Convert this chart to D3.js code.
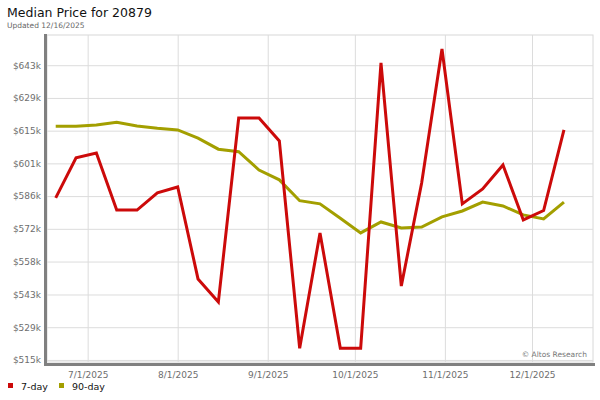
<!doctype html>
<html>
  <head>
    <meta charset="utf-8">
    <title>Median Price for 20879</title>
    <script src="https://d3js.org/d3.v7.min.js"></script>
    <style>
      body { margin: 0; background: #fff; }
      text { font-family: "DejaVu Sans", sans-serif; }
    </style>
  </head>
  <body>
  <div id="chart"></div>
  <script>
    // weekly dates (Fridays), 20 Jun 2025 .. 12 Dec 2025
    var weeks = ["2025-06-20","2025-06-27","2025-07-04","2025-07-11","2025-07-18","2025-07-25",
                 "2025-08-01","2025-08-08","2025-08-15","2025-08-22","2025-08-29","2025-09-05",
                 "2025-09-12","2025-09-19","2025-09-26","2025-10-03","2025-10-10","2025-10-17",
                 "2025-10-24","2025-10-31","2025-11-07","2025-11-14","2025-11-21","2025-11-28",
                 "2025-12-05","2025-12-12"];

    // median price, $k
    var sevenDay = [585.4, 602.9, 605.0, 580.1, 580.1, 587.6, 590.2, 550.0, 539.9, 620.3, 620.3, 610.3,
                    519.7, 570.1, 519.7, 519.7, 644.4, 546.9, 591.9, 650.5, 582.8, 589.3, 599.8, 575.8,
                    579.9, 615.1];
    var ninetyDay = [616.7, 616.7, 617.3, 618.5, 616.8, 615.8, 615.1, 611.5, 606.7, 605.6, 597.6, 593.3,
                     584.2, 582.8, 576.5, 570.1, 574.9, 572.3, 572.7, 577.1, 579.7, 583.6, 581.9, 578.0,
                     576.2, 583.6];

    var yTicks = [514.6, 528.9, 543.2, 557.6, 571.9, 586.2, 600.5, 614.8, 629.1, 643.4];
    var xTicks = ["2025-07-01","2025-08-01","2025-09-01","2025-10-01","2025-11-01","2025-12-01"];

    var series = [
      {name: "7-day", values: sevenDay, color: "#cc0a0a"},
      {name: "90-day", values: ninetyDay, color: "#a39f00"}
    ];

    var W = 600, H = 400;
    var pLeft = 47, pRight = 593, pTop = 35, pBottom = 362;
    var parse = d3.timeParse("%Y-%m-%d");

    var svg = d3.select("#chart").append("svg").attr("width", W).attr("height", H);

    var x = d3.scaleTime()
      .domain([parse("2025-06-17"), parse("2025-12-22")])
      .range([pLeft, pRight]);

    var y = d3.scaleLinear()
      .domain([513.7, 656.6])
      .range([pBottom, pTop]);

    // title
    svg.append("text").attr("x", 7).attr("y", 17)
      .style("font-size", "12.5px").attr("fill", "#111")
      .text("Median Price for 20879");
    svg.append("text").attr("x", 7).attr("y", 28)
      .style("font-size", "7.5px").attr("fill", "#666")
      .text("Updated 12/16/2025");

    // plot frame
    svg.append("rect")
      .attr("x", pLeft).attr("y", pTop)
      .attr("width", pRight - pLeft).attr("height", pBottom - pTop)
      .attr("fill", "#fff").attr("stroke", "#d8d8d8");

    // grid
    var yAxis = d3.axisLeft(y)
      .tickValues(yTicks)
      .tickSize(-(pRight - pLeft))
      .tickFormat(function(d){ return "$" + Math.round(d) + "k"; });

    var xAxis = d3.axisBottom(x)
      .tickValues(xTicks.map(parse))
      .tickSize(-(pBottom - pTop))
      .tickFormat(d3.timeFormat("%-m/%-d/%Y"));

    svg.append("g")
        .attr("class", "y axis")
        .attr("transform", "translate(" + pLeft + ",0)")
        .call(yAxis)
        .call(customAxis)
        .selectAll(".tick text").attr("x", -6);

    svg.append("g")
        .attr("class", "x axis")
        .attr("transform", "translate(0," + pBottom + ")")
        .call(xAxis)
        .call(customAxis)
        .selectAll(".tick text").attr("y", 10);

    function customAxis(g) {
      g.select(".domain").remove();
      g.selectAll(".tick line").attr("stroke", "#dcdcdc");
      g.selectAll(".tick text").attr("fill", "#6e6e6e").style("font-size", "9px");
    }

    // shadow bars
    svg.append("rect").attr("x", 44).attr("y", pTop - 1).attr("width", 3).attr("height", pBottom - pTop + 5).attr("fill", "#808080");
    svg.append("rect").attr("x", 44).attr("y", pBottom + 1).attr("width", pRight - 44 + 2).attr("height", 3).attr("fill", "#808080");

    // copyright
    svg.append("text").attr("x", pRight - 6).attr("y", pBottom - 5)
      .attr("text-anchor", "end").style("font-size", "7.5px").attr("fill", "#777")
      .text("\u00a9 Altos Research");

    // lines
    var line = d3.line()
      .x(function(d, i){ return x(parse(weeks[i])); })
      .y(function(d){ return y(d); });

    series.slice().reverse().forEach(function(s){
      svg.append("path")
        .attr("d", line(s.values))
        .attr("fill", "none")
        .attr("stroke", s.color)
        .attr("stroke-width", 3);
    });

    // legend
    var lg = svg.append("g").attr("class", "legend");
    var offsets = [8, 59];
    series.forEach(function(s, i){
      lg.append("rect").attr("x", offsets[i]).attr("y", 383).attr("width", 5).attr("height", 5).attr("fill", s.color);
      lg.append("text").attr("x", offsets[i] + 13).attr("y", 389.5)
        .style("font-size", "9.5px").attr("fill", "#111").text(s.name);
    });
  </script>
  </body>
</html>
